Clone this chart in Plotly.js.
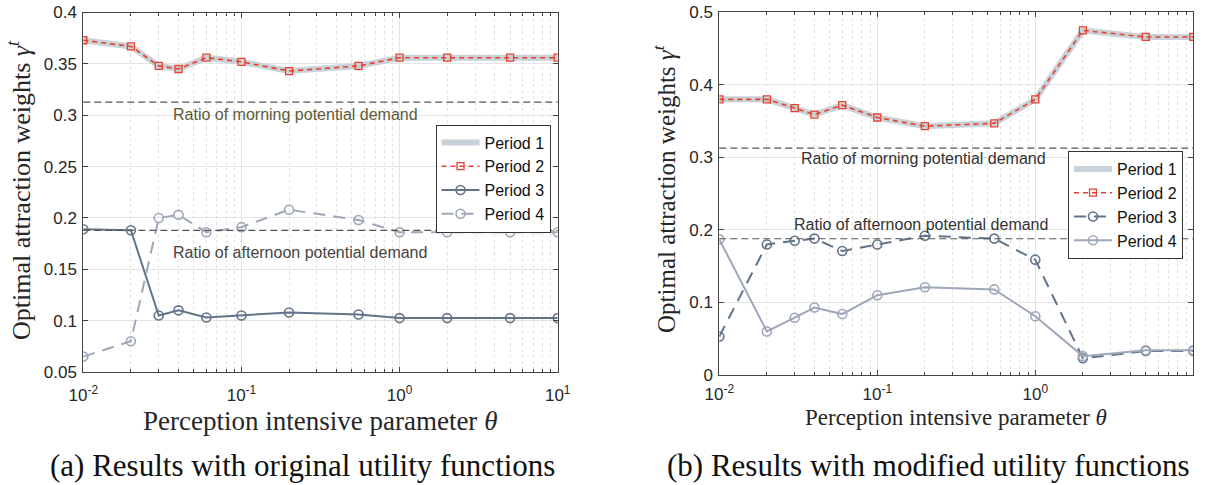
<!DOCTYPE html>
<html><head><meta charset="utf-8">
<script src="https://cdn.plot.ly/plotly-3.0.1.min.js"></script>
<style>html,body{margin:0;padding:0;background:#fff}#chart{width:1225px;height:485px}</style>
</head><body><div id="chart"></div>
<script>
// ---- data ----
const theta = [0.01,0.02,0.03,0.04,0.06,0.1,0.2,0.55,1,2,5,10];
// (a) original utility functions
const aPeriod1 = [0.373,0.367,0.348,0.345,0.356,0.352,0.343,0.348,0.356,0.356,0.356,0.356];
const aPeriod2 = [0.373,0.367,0.348,0.345,0.356,0.352,0.343,0.348,0.356,0.356,0.356,0.356];
const aPeriod3 = [0.189,0.188,0.105,0.110,0.103,0.105,0.108,0.106,0.1025,0.1025,0.1025,0.1025];
const aPeriod4 = [0.065,0.080,0.200,0.203,0.186,0.191,0.208,0.198,0.186,0.186,0.186,0.186];
// (b) modified utility functions
const bPeriod1 = [0.380,0.380,0.368,0.359,0.372,0.355,0.343,0.347,0.380,0.475,0.466,0.466];
const bPeriod2 = [0.380,0.380,0.368,0.359,0.372,0.355,0.343,0.347,0.380,0.475,0.466,0.466];
const bPeriod3 = [0.053,0.180,0.185,0.188,0.171,0.180,0.192,0.188,0.159,0.023,0.033,0.033];
const bPeriod4 = [0.187,0.060,0.079,0.093,0.084,0.110,0.121,0.118,0.081,0.026,0.034,0.034];
const morningRatio = 0.3128;
const afternoonRatio = 0.1878;
const yTicksA = [0.05,0.1,0.15,0.2,0.25,0.3,0.35,0.4];
const yTicksB = [0,0.1,0.2,0.3,0.4,0.5];
const xTicksA = [0.01,0.1,1,10];
const xTickTextA = ['10<sup>-2</sup>','10<sup>-1</sup>','10<sup>0</sup>','10<sup>1</sup>'];
const xTicksB = [0.01,0.1,1];
const xTickTextB = ['10<sup>-2</sup>','10<sup>-1</sup>','10<sup>0</sup>'];
const seriesNames = ['Period 1','Period 2','Period 3','Period 4'];

// ---- styling ----
const W = 1225, H = 485;
const px = v => v / W, py = v => 1 - v / H;
const cP1 = '#c9d1d9', cP2 = '#e8412c', cDark = '#62748a', cLight = '#9ea6b9';
const sans = 'Liberation Sans, Arial, sans-serif';
const serif = 'Liberation Serif, Times New Roman, serif';

const minorVals = [];
for (let e = -2; e < 1; e++) for (let k = 2; k <= 9; k++) minorVals.push(k * Math.pow(10, e));

function xaxisDef(domain, tv, tt, anchor, standoff) {
  return {type:'log', domain, range:[-2,1], anchor,
    tickvals:tv, ticktext:tt, ticks:'inside', ticklen:5, tickcolor:'#444',
    showline:true, linecolor:'#444', linewidth:1, mirror:'ticks',
    showgrid:true, gridcolor:'#e4e4e4', gridwidth:1, zeroline:false,
    ticklabelstandoff:standoff,
    tickfont:{family:sans, size:17, color:'#262626'},
    minor:{tickvals:minorVals, ticks:'inside', ticklen:3, tickcolor:'#444',
      showgrid:true, gridcolor:'#e2e2e2', griddash:'dot', gridwidth:1}};
}
function yaxisDef(domain, range, tv, anchor) {
  return {domain, range, anchor, tickvals:tv, ticks:'inside', ticklen:5, tickcolor:'#444',
    showline:true, linecolor:'#444', linewidth:1, mirror:'ticks',
    showgrid:true, gridcolor:'#e4e4e4', zeroline:false, ticklabelstandoff:2,
    tickfont:{family:sans, size:17, color:'#262626'}};
}

function traces(xa, ya, lg, p1, p2, p3, p4, p3dash, p4dash, c3, c4) {
  return [
    {x:theta, y:p1, xaxis:xa, yaxis:ya, legend:lg, name:seriesNames[0], mode:'lines',
      line:{color:cP1, width:6}},
    {x:theta, y:p2, xaxis:xa, yaxis:ya, legend:lg, name:seriesNames[1], mode:'lines+markers',
      line:{color:cP2, width:1.6, dash:'5px,4px'},
      marker:{symbol:'square-open', size:7, color:cP2, line:{width:1.3}}},
    {x:theta, y:p3, xaxis:xa, yaxis:ya, legend:lg, name:seriesNames[2], mode:'lines+markers',
      line:{color:c3, width:2, dash:p3dash},
      marker:{symbol:'circle-open', size:9, color:c3, line:{width:1.6}}},
    {x:theta, y:p4, xaxis:xa, yaxis:ya, legend:lg, name:seriesNames[3], mode:'lines+markers',
      line:{color:c4, width:2, dash:p4dash},
      marker:{symbol:'circle-open', size:9, color:c4, line:{width:1.6}}}
  ];
}

const data = [
  ...traces('x','y','legend', aPeriod1, aPeriod2, aPeriod3, aPeriod4, 'solid', '12px,8px', cDark, cLight),
  ...traces('x2','y2','legend2', bPeriod1, bPeriod2, bPeriod3, bPeriod4, '12px,8px', 'solid', cDark, cLight)
];

function refLine(xr, yr, v) {
  return {type:'line', xref:xr+' domain', yref:yr, x0:0, x1:1, y0:v, y1:v,
    line:{color:'#555', width:1.2, dash:'7px,4px'}};
}

const legendDef = (x, y) => ({x, y, xanchor:'right', yanchor:'top', xref:'paper', yref:'paper',
  bgcolor:'#fff', bordercolor:'#333', borderwidth:1,
  font:{family:sans, size:16, color:'#111'}, tracegroupgap:0, itemwidth:38});

function ann(text, x, y, size, color, family, extra) {
  return Object.assign({text, xref:'paper', yref:'paper', x:px(x), y:py(y),
    xanchor:'center', yanchor:'middle', showarrow:false,
    font:{family, size, color}}, extra || {});
}

const layout = {
  width:W, height:H, margin:{l:0,r:0,t:0,b:0}, paper_bgcolor:'#fff', plot_bgcolor:'#fff',
  xaxis: xaxisDef([px(83.3), px(557.7)], xTicksA, xTickTextA, 'y', 8),
  yaxis: yaxisDef([py(372), py(12.5)], [0.05,0.4], yTicksA, 'x'),
  xaxis2: xaxisDef([px(719.3), px(1193.3)], xTicksB, xTickTextB, 'y2', 4),
  yaxis2: yaxisDef([py(375), py(12.3)], [0,0.5], yTicksB, 'x2'),
  showlegend:true,
  legend: legendDef(px(550.5), py(124.5)),
  legend2: legendDef(px(1183), py(151)),
  shapes:[refLine('x','y',morningRatio), refLine('x','y',afternoonRatio),
          refLine('x2','y2',morningRatio), refLine('x2','y2',afternoonRatio)],
  annotations:[
    {text:'Ratio of morning potential demand', xref:'x domain', yref:'y', x:0.448, y:0.3005,
      xanchor:'center', yanchor:'middle', showarrow:false, font:{family:sans, size:16, color:'#5b5b38'}},
    {text:'Ratio of afternoon potential demand', xref:'x domain', yref:'y', x:0.457, y:0.1668,
      xanchor:'center', yanchor:'middle', showarrow:false, font:{family:sans, size:16, color:'#444'}},
    {text:'Ratio of morning potential demand', xref:'x2 domain', yref:'y2', x:0.43, y:0.299,
      xanchor:'center', yanchor:'middle', showarrow:false, font:{family:sans, size:16, color:'#333'}},
    {text:'Ratio of afternoon potential demand', xref:'x2 domain', yref:'y2', x:0.425, y:0.208,
      xanchor:'center', yanchor:'middle', showarrow:false, font:{family:sans, size:16, color:'#333'}},
    ann('Optimal attraction weights <i>γ</i><sup><i>t</i></sup>', 20, 190, 26, '#262626', serif, {textangle:-90}),
    ann('Optimal attraction weights <i>γ</i><sup><i>t</i></sup>', 664, 188, 25, '#262626', serif, {textangle:-90}),
    ann('Perception intensive parameter <i>θ</i>', 320, 421, 27, '#262626', serif),
    ann('Perception intensive parameter <i>θ</i>', 956, 417, 23, '#262626', serif),
    ann('(a) Results with original utility functions', 302, 465, 31, '#111', serif),
    ann('(b) Results with modified utility functions', 928, 465, 31, '#111', serif)
  ]
};
Plotly.newPlot('chart', data, layout, {displayModeBar:false, staticPlot:true});
</script></body></html>
